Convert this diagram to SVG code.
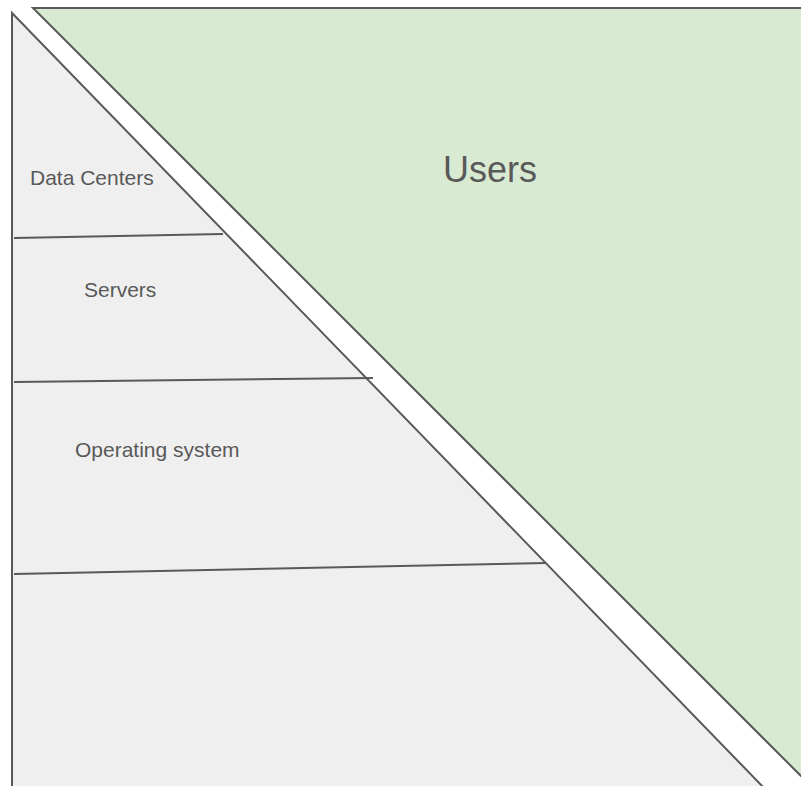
<svg xmlns="http://www.w3.org/2000/svg" width="801" height="786" viewBox="0 0 801 786">
<style>
.shape{stroke:#595959;stroke-width:2;stroke-linejoin:miter}
.div{stroke:#595959;stroke-width:2;fill:none}
.lbl{font-family:"Liberation Sans",Arial,sans-serif;fill:#595959}
</style>
<rect width="801" height="786" fill="#ffffff"/>
<g id="users">
<polygon class="shape" points="33,8 803,8 803,778" fill="#d9ead3"/>
<text class="lbl" x="490" y="182" font-size="36" text-anchor="middle">Users</text>
</g>
<g id="stack">
<polygon class="shape" points="12,13 12,790 766,790" fill="#efefef"/>
</g>
<g id="connectors">
<line class="div" x1="14" y1="238" x2="223" y2="234"/>
<line class="div" x1="14" y1="382" x2="373" y2="378"/>
<line class="div" x1="14" y1="574" x2="546" y2="563"/>
</g>
<g id="data-centers">
<text class="lbl" x="30" y="185" font-size="21">Data Centers</text>
</g>
<g id="servers">
<text class="lbl" x="84" y="297" font-size="21">Servers</text>
</g>
<g id="os">
<text class="lbl" x="75" y="457" font-size="21">Operating system</text>
</g>
</svg>
